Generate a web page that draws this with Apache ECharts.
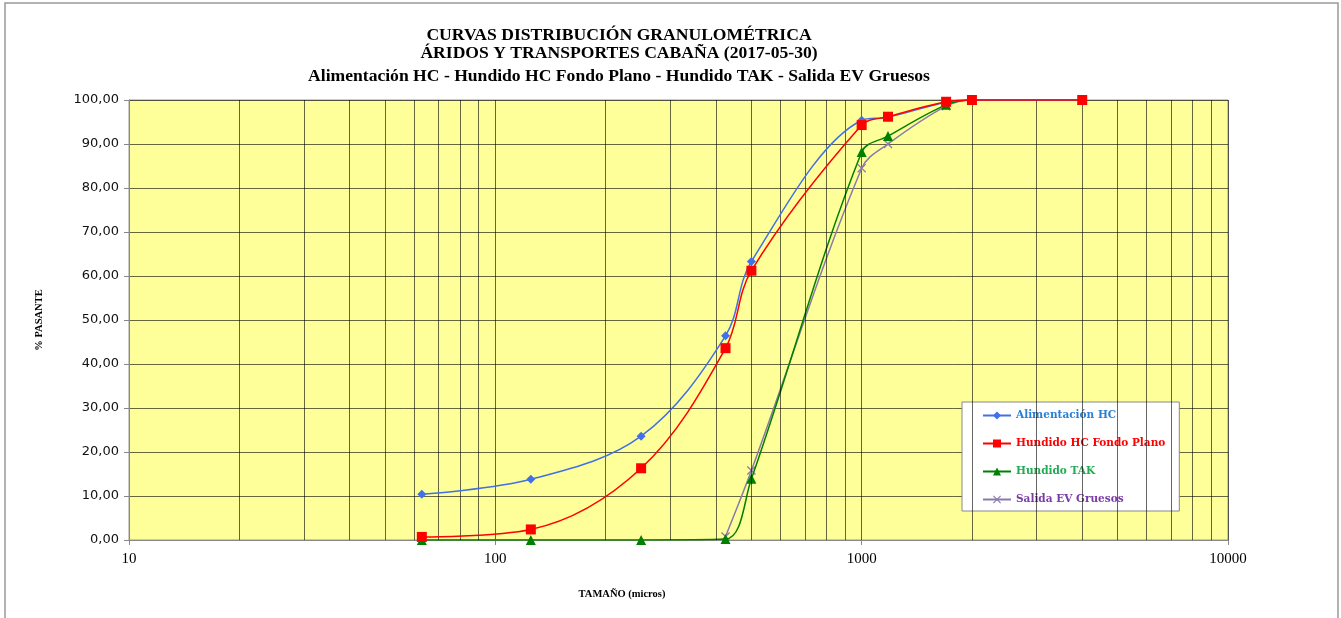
<!DOCTYPE html>
<html>
<head>
<meta charset="utf-8">
<script src="https://cdn.jsdelivr.net/npm/echarts@6/dist/echarts.min.js"></script>
<style>
  html, body { margin: 0; padding: 0; background: #fff; }
  #chart { width: 1341px; height: 618px; }
</style>
</head>
<body>
<div id="chart"></div>
<script>
// tamaños de tamiz (micras)
var sizes = [63, 125, 250, 425, 500, 1000, 1180, 1700, 2000, 4000];
var alimentacionHC = [10.4, 13.8, 23.6, 46.4, 63.3, 95.4, 96.1, 99.5, 100, 100];
var hundidoHCFondoPlano = [0.7, 2.4, 16.3, 43.6, 61.2, 94.3, 96.2, 99.6, 100, 100];
var hundidoTAK = [0, 0, 0, 0.2, 13.9, 88.2, 91.8, 98.9, 100, 100];
var salidaEVGruesos = [null, null, null, 0.8, 15.8, 84.5, 90.0, 98.6, 100, 100];
// lineas de division secundarias del eje logaritmico
var minorGrid = [20, 30, 40, 50, 60, 70, 80, 90, 200, 300, 400, 500, 600, 700, 800, 900,
  2000, 3000, 4000, 5000, 6000, 7000, 8000, 9000];

var serieNames = ['Alimentación HC', 'Hundido HC Fondo Plano', 'Hundido TAK', 'Salida EV Gruesos'];
var serieColors = ['#4170e8', '#ff0000', '#008000', '#8a7aaa'];
var textColors = ['#2a7fd4', '#ff0000', '#22aa55', '#7a3aa8'];

function pairs(vals) {
  return sizes.map(function (s, i) { return [s, vals[i]]; });
}

var crossPath = 'path://M0,1L1,0L5,4L9,0L10,1L6,5L10,9L9,10L5,6L1,10L0,9L4,5Z';

var chart = echarts.init(document.getElementById('chart'));
var serif = '"Liberation Serif", "DejaVu Serif", serif';

var option = {
  animation: false,
  backgroundColor: '#fff',
  title: [
    { text: 'CURVAS DISTRIBUCIÓN GRANULOMÉTRICA', left: 614, top: 21, textAlign: 'center',
      textStyle: { fontFamily: serif, fontSize: 17.6, fontWeight: 'bold', color: '#000' } },
    { text: 'ÁRIDOS Y TRANSPORTES CABAÑA (2017-05-30)', left: 614, top: 39, textAlign: 'center',
      textStyle: { fontFamily: serif, fontSize: 17.6, fontWeight: 'bold', color: '#000' } },
    { text: 'Alimentación HC - Hundido HC Fondo Plano - Hundido TAK - Salida EV Gruesos', left: 614, top: 62, textAlign: 'center',
      textStyle: { fontFamily: serif, fontSize: 17.6, fontWeight: 'bold', color: '#000' } },
    { text: 'TAMAÑO (micros)', left: 617, top: 584, textAlign: 'center',
      textStyle: { fontFamily: serif, fontSize: 10.5, fontWeight: 'bold', color: '#000' } }
  ],
  graphic: [
    { type: 'rect', shape: { x: 5, y: 3, width: 1333, height: 640 }, silent: true,
      style: { fill: 'none', stroke: '#999', lineWidth: 1.5 } }
  ],
  legend: {
    orient: 'vertical',
    left: 962, top: 402,
    width: 220,
    padding: [8, 14, 6, 20],
    itemGap: 17,
    itemWidth: 28, itemHeight: 10,
    backgroundColor: '#fff',
    borderColor: '#888', borderWidth: 1,
    textStyle: { fontFamily: '"DejaVu Serif", serif', fontSize: 10.5, fontWeight: 'bold' },
    data: serieNames.map(function (n, i) {
      return { name: n, textStyle: { color: textColors[i] } };
    })
  },
  grid: {
    left: 129, right: 113, top: 100, bottom: 78,
    show: true, backgroundColor: '#ffff99', borderColor: '#999', borderWidth: 1
  },
  xAxis: {
    type: 'log',
    logBase: 10,
    min: 10, max: 10000,
    splitNumber: 3,
    axisLine: { lineStyle: { color: '#888' } },
    axisTick: { show: true, length: 5, lineStyle: { color: '#888' } },
    axisLabel: {
      fontFamily: serif, fontSize: 15, color: '#000', margin: 12,
      formatter: function (v) { return String(Math.round(v)); }
    },
    splitLine: { show: true, lineStyle: { color: 'rgba(0,0,0,0.6)', width: 1 } }
  },
  yAxis: {
    type: 'value',
    min: 0, max: 100, interval: 10,
    name: '% PASANTE',
    nameLocation: 'middle',
    nameGap: 84,
    nameRotate: 90,
    nameTextStyle: { fontFamily: serif, fontSize: 10.5, fontWeight: 'bold', color: '#000' },
    axisLine: { show: true, lineStyle: { color: '#888' } },
    axisTick: { show: true, length: 5, lineStyle: { color: '#888' } },
    axisLabel: {
      fontFamily: '"DejaVu Sans", sans-serif', fontSize: 13, color: '#111', margin: 10,
      formatter: function (v) { return v.toFixed(2).replace('.', ','); }
    },
    splitLine: { show: true, lineStyle: { color: 'rgba(0,0,0,0.6)', width: 1 } }
  },
  series: [
    {
      name: 'minor', type: 'line', data: [], z: 1, silent: true,
      markLine: {
        silent: true, symbol: 'none', animation: false,
        label: { show: false },
        lineStyle: { color: 'rgba(0,0,0,0.6)', width: 1, type: 'solid' },
        data: minorGrid.map(function (v) { return { xAxis: v }; })
      }
    },
    {
      name: serieNames[0], type: 'line', data: pairs(alimentacionHC), smooth: 0.35, z: 5,
      symbol: 'diamond', symbolSize: 9,
      lineStyle: { color: serieColors[0], width: 1.5 },
      itemStyle: { color: serieColors[0] }
    },
    {
      name: serieNames[1], type: 'line', data: pairs(hundidoHCFondoPlano), smooth: 0.35, z: 6,
      symbol: 'rect', symbolSize: 10,
      lineStyle: { color: serieColors[1], width: 1.5 },
      itemStyle: { color: serieColors[1] }
    },
    {
      name: serieNames[2], type: 'line', data: pairs(hundidoTAK), smooth: 0.35, z: 4,
      symbol: 'triangle', symbolSize: 10,
      lineStyle: { color: serieColors[2], width: 1.5 },
      itemStyle: { color: serieColors[2] }
    },
    {
      name: serieNames[3], type: 'line', data: pairs(salidaEVGruesos), smooth: 0.35, z: 3,
      symbol: crossPath, symbolSize: 9,
      lineStyle: { color: serieColors[3], width: 1.5 },
      itemStyle: { color: serieColors[3] }
    }
  ]
};
chart.setOption(option);
</script>
</body>
</html>
